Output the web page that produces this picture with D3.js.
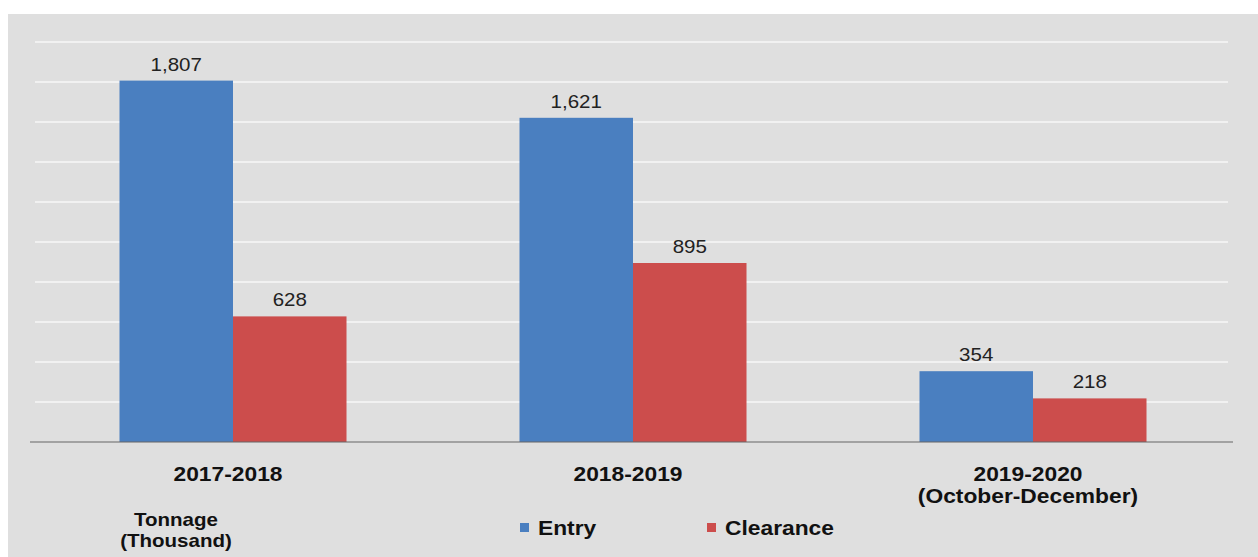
<!DOCTYPE html>
<html>
<head>
<meta charset="utf-8">
<script src="https://cdn.jsdelivr.net/npm/d3@7"></script>
<style>
  body { margin: 0; background: #fff; }
  svg { display: block; font-family: "Liberation Sans", Arial, sans-serif; }
</style>
</head>
<body>
<svg width="1258" height="557"></svg>
<script>
const periods = ["2017-2018", "2018-2019", "2019-2020"];
const periodSubLabels = ["", "", "(October-December)"];
const seriesNames = ["Entry", "Clearance"];
const entry = [1807, 1621, 354];
const clearance = [628, 895, 218];
const gridTicks = [0, 200, 400, 600, 800, 1000, 1200, 1400, 1600, 1800, 2000];

const colors = { "Entry": "#4a7fc0", "Clearance": "#cc4d4c" };

const svg = d3.select("svg");
const width = 1258;
const height = 557;
const stretch = 1.14; // the text in the source is a bit wider than the font

// grey panel behind everything
svg.append("rect")
  .attr("x", 8).attr("y", 14)
  .attr("width", width - 8).attr("height", height - 14)
  .attr("fill", "#dfdfdf");

const y = d3.scaleLinear().domain([0, 2000]).range([442, 42]);

const x = d3.scaleBand()
  .domain(periods)
  .range([33, 1233])
  .paddingInner(0.4325)
  .paddingOuter(0.21625);

const xs = d3.scaleBand()
  .domain(seriesNames)
  .range([0, x.bandwidth()]);

// white gridlines
svg.append("g")
  .selectAll("line")
  .data(gridTicks.filter(d => d > 0))
  .enter()
  .append("line")
  .attr("x1", 35).attr("x2", 1228)
  .attr("y1", d => y(d)).attr("y2", d => y(d))
  .attr("stroke", "#f7f7f7")
  .attr("stroke-width", 1.5);

const rows = periods.map((p, i) => ({ period: p, values: [
  { name: "Entry", value: entry[i] },
  { name: "Clearance", value: clearance[i] }
]}));

const groups = svg.append("g")
  .selectAll("g")
  .data(rows)
  .enter()
  .append("g")
  .attr("transform", d => `translate(${x(d.period)},0)`);

groups.selectAll("rect")
  .data(d => d.values)
  .enter()
  .append("rect")
  .attr("x", d => xs(d.name))
  .attr("y", d => y(d.value))
  .attr("width", xs.bandwidth())
  .attr("height", d => y(0) - y(d.value))
  .attr("fill", d => colors[d.name]);

groups.selectAll("text.value")
  .data(d => d.values)
  .enter()
  .append("text")
  .attr("class", "value")
  .attr("transform", `scale(${stretch},1)`)
  .attr("x", d => (xs(d.name) + xs.bandwidth() / 2) / stretch)
  .attr("y", d => y(d.value) - 10)
  .attr("text-anchor", "middle")
  .attr("font-size", 18)
  .attr("fill", "#222")
  .text(d => d3.format(",")(d.value));

// baseline
svg.append("line")
  .attr("x1", 30).attr("x2", 1233)
  .attr("y1", y(0)).attr("y2", y(0))
  .attr("stroke", "#666")
  .attr("stroke-width", 1.2);

// category labels (sit a few px left of the group centre in the source)
const labelX = d => (x(d) + x.bandwidth() / 2 - 5) / stretch;
const cat = svg.append("g")
  .attr("transform", `scale(${stretch},1)`)
  .selectAll("text")
  .data(periods)
  .enter()
  .append("text")
  .attr("x", labelX)
  .attr("y", 481)
  .attr("text-anchor", "middle")
  .attr("font-size", 20)
  .attr("font-weight", "bold")
  .attr("fill", "#111");

cat.append("tspan").text(d => d);
cat.append("tspan")
  .attr("x", labelX)
  .attr("dy", 22)
  .text((d, i) => periodSubLabels[i]);

// unit label
const unit = svg.append("text")
  .attr("transform", `scale(${stretch},1)`)
  .attr("x", 176 / stretch).attr("y", 526)
  .attr("text-anchor", "middle")
  .attr("font-size", 18)
  .attr("font-weight", "bold")
  .attr("fill", "#111");
unit.append("tspan").text("Tonnage");
unit.append("tspan").attr("x", 176 / stretch).attr("dy", 21).text("(Thousand)");

// legend
const legendX = [520, 707];
const legend = svg.append("g")
  .selectAll("g")
  .data(seriesNames)
  .enter()
  .append("g")
  .attr("transform", (d, i) => `translate(${legendX[i]},528)`);

legend.append("rect")
  .attr("x", 0).attr("y", -5)
  .attr("width", 9).attr("height", 9)
  .attr("fill", d => colors[d]);

legend.append("text")
  .attr("transform", `scale(${stretch},1)`)
  .attr("x", 18 / stretch).attr("y", 7)
  .attr("font-size", 20)
  .attr("font-weight", "bold")
  .attr("fill", "#111")
  .text(d => d);
</script>
</body>
</html>
